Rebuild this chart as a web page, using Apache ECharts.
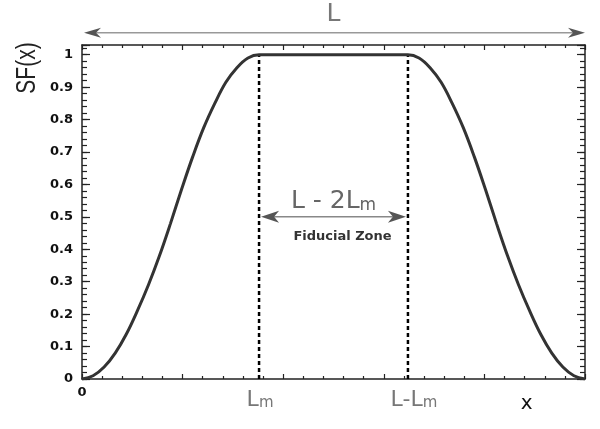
<!DOCTYPE html>
<html>
<head>
<meta charset="utf-8">
<script src="https://cdn.jsdelivr.net/npm/echarts@6/dist/echarts.min.js"></script>
<style>html,body{margin:0;padding:0;background:#fff}#c{width:600px;height:429px}</style>
</head>
<body>
<div id="c"></div>
<script>
// ---- data ----
const L = 5;            // full length (x axis end)
const Lm = 1.76;        // margin length
const LmR = 3.24;       // L - Lm
const riseX = [0, 0.11, 0.22, 0.33, 0.44, 0.55, 0.66, 0.77, 0.88, 0.99, 1.10, 1.21, 1.32, 1.43, 1.54, 1.65, 1.76];
const riseY = [0, 0.01, 0.037, 0.08, 0.138, 0.21, 0.29, 0.38, 0.48, 0.585, 0.685, 0.775, 0.85, 0.915, 0.96, 0.99, 1.0];
const flatX = [1.87, 3.13];
const flatY = [1, 1];
const fallX = [3.24, 3.35, 3.46, 3.57, 3.68, 3.79, 3.90, 4.01, 4.12, 4.23, 4.34, 4.45, 4.56, 4.67, 4.78, 4.89, 5.0];
const fallY = [1.0, 0.99, 0.96, 0.915, 0.85, 0.775, 0.685, 0.585, 0.48, 0.38, 0.29, 0.21, 0.138, 0.08, 0.037, 0.01, 0];
const yTickLabels = ['0', '0.1', '0.2', '0.3', '0.4', '0.5', '0.6', '0.7', '0.8', '0.9', '1'];
const xTickLabels = ['0'];
const fiducialY = 0.5;
const topArrowY = 1.068;

const curve = [];
[[riseX, riseY], [flatX, flatY], [fallX, fallY]].forEach(([xs, ys]) => {
  xs.forEach((x, i) => curve.push([x, ys[i]]));
});

const chart = echarts.init(document.getElementById('c'), null, {renderer: 'canvas'});
const labFont = 'DejaVu Sans';
const axisCol = '#222';
const yMax = 1.03;

function yAxisDef(pos, interval, tickLen, showLine, showLabel) {
  return {
    type: 'value', position: pos, min: 0, max: yMax, interval: interval,
    axisLine: {show: showLine, lineStyle: {color: axisCol, width: 1.5}},
    axisTick: {show: true, inside: true, length: tickLen, lineStyle: {color: axisCol, width: 1.2}},
    axisLabel: {
      show: showLabel, margin: 9, fontFamily: labFont, fontWeight: 'bold', fontSize: 13, color: '#111',
      formatter: v => { const i = Math.round(v * 10); return (Math.abs(v * 10 - i) < 1e-6 && i <= 10) ? yTickLabels[i] : ''; }
    },
    splitLine: {show: false}
  };
}
function xAxisDef(pos, showLabel) {
  return {
    type: 'value', position: pos, min: 0, max: L, interval: 1,
    axisLine: {show: true, onZero: false, lineStyle: {color: axisCol, width: 1.5}},
    axisTick: {show: true, inside: true, length: 5, lineStyle: {color: axisCol, width: 1.2}},
    minorTick: {show: true, splitNumber: 5, length: 3, lineStyle: {color: axisCol, width: 1.2}},
    axisLabel: {
      show: showLabel, margin: 7, fontFamily: labFont, fontWeight: 'bold', fontSize: 13, color: '#111',
      formatter: v => (v === 0 ? xTickLabels[0] : '')
    },
    splitLine: {show: false}
  };
}

const option = {
  animation: false,
  backgroundColor: '#fff',
  grid: {left: 82, right: 15, top: 45, bottom: 50, containLabel: false},
  xAxis: [xAxisDef('bottom', true), xAxisDef('top', false)],
  yAxis: [
    yAxisDef('left', 0.1, 8, true, true),
    yAxisDef('left', 0.02, 5, false, false),
    yAxisDef('right', 0.1, 8, true, false),
    yAxisDef('right', 0.02, 5, false, false)
  ],
  series: [
    {
      type: 'line', data: [[Lm, 0], [Lm, 1]], symbol: 'none', silent: true,
      lineStyle: {color: '#000', width: 2.5, type: [4, 3]}, z: 2
    },
    {
      type: 'line', data: [[LmR, 0], [LmR, 1]], symbol: 'none', silent: true,
      lineStyle: {color: '#000', width: 2.5, type: [4, 3]}, z: 2
    },
    {
      type: 'line', data: curve, symbol: 'none', smooth: 0.4, silent: true,
      lineStyle: {color: '#333', width: 3}, z: 3
    }
  ]
};
chart.setOption(option);

function px(x, y) { return chart.convertToPixel({xAxisIndex: 0, yAxisIndex: 0}, [x, y]); }
function arrow(p0, p1, lineCol, headCol, len, half, notch) {
  const y = p0[1];
  return [
    {type: 'line', shape: {x1: p0[0] + notch, y1: y, x2: p1[0] - notch, y2: y}, style: {stroke: lineCol, lineWidth: 1.5}},
    {type: 'polygon', shape: {points: [[p0[0], y], [p0[0] + len, y - half], [p0[0] + notch, y], [p0[0] + len, y + half]]}, style: {fill: headCol}},
    {type: 'polygon', shape: {points: [[p1[0], y], [p1[0] - len, y - half], [p1[0] - notch, y], [p1[0] - len, y + half]]}, style: {fill: headCol}}
  ];
}
const t0 = px(0, topArrowY), t1 = px(L, topArrowY);
const f0 = px(Lm, fiducialY), f1 = px(LmR, fiducialY);
const bLm = px(Lm, 0), bLmR = px(LmR, 0);
const g = [];
g.push(...arrow([t0[0] + 2, t0[1]], t1, '#999', '#555', 17, 5, 12));
g.push(...arrow([f0[0] + 2, f0[1]], [f1[0] - 2, f1[1]], '#888', '#555', 18, 6, 13));
const grayRich = (size, col) => ({
  a: {fontFamily: labFont, fontSize: size, fill: col, color: col, lineHeight: size + 4, verticalAlign: 'bottom'},
  b: {fontFamily: labFont, fontSize: Math.round(size * 0.68), fill: col, color: col, lineHeight: Math.round(size * 0.68) + 2, verticalAlign: 'bottom'}
});
g.push({type: 'text', x: (t0[0] + t1[0]) / 2, y: t0[1] - 18,
  style: {text: 'L', fontFamily: labFont, fontSize: 25, fill: '#777', align: 'center', verticalAlign: 'middle'}});
g.push({type: 'text', x: (f0[0] + f1[0]) / 2, y: f0[1] - 17,
  style: {text: '{a|L - 2L}{b|m}', rich: grayRich(25, '#666'), align: 'center', verticalAlign: 'middle'}});
g.push({type: 'text', x: (f0[0] + f1[0]) / 2 + 9, y: f0[1] + 20,
  style: {text: 'Fiducial Zone', fontFamily: labFont, fontWeight: 'bold', fontSize: 13, fill: '#333', align: 'center', verticalAlign: 'middle'}});
g.push({type: 'text', x: bLm[0] + 1, y: bLm[1] + 19,
  style: {text: '{a|L}{b|m}', rich: grayRich(22, '#777'), align: 'center', verticalAlign: 'middle'}});
g.push({type: 'text', x: bLmR[0] + 6, y: bLmR[1] + 19,
  style: {text: '{a|L-L}{b|m}', rich: grayRich(22, '#777'), align: 'center', verticalAlign: 'middle'}});
const xl = px(4.42, 0);
g.push({type: 'text', x: xl[0], y: xl[1] + 25,
  style: {text: 'x', fontFamily: labFont, fontSize: 20, fill: '#111', align: 'center', verticalAlign: 'middle'}});
g.push({type: 'text', x: 27, y: 68, rotation: Math.PI / 2, scaleX: 0.75,
  style: {text: 'SF(x)', fontFamily: 'Liberation Sans', fontSize: 28, fill: '#222', align: 'center', verticalAlign: 'middle'}});
chart.setOption({graphic: g});
</script>
</body>
</html>
